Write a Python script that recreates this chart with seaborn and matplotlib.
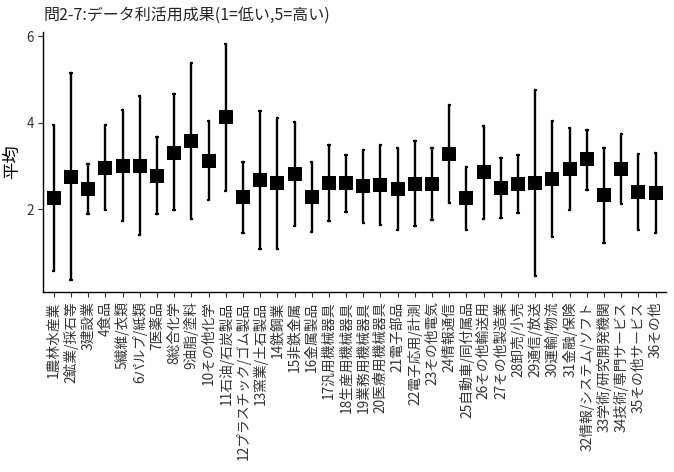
import pandas as pd
import seaborn as sns
import matplotlib.pyplot as plt

# industries (x categories)
industries = [
    "1農林水産業", "2鉱業/採石等", "3建設業", "4食品", "5繊維/衣類", "6パルプ/紙類",
    "7医薬品", "8総合化学", "9油脂/塗料", "10その他化学", "11石油/石炭製品",
    "12プラスチック/ゴム製品", "13窯業/土石製品", "14鉄鋼業", "15非鉄金属", "16金属製品",
    "17汎用機械器具", "18生産用機械器具", "19業務用機械器具", "20医療用機械器具",
    "21電子部品", "22電子応用/計測", "23その他電気", "24情報通信", "25自動車/同付属品",
    "26その他輸送用", "27その他製造業", "28卸売/小売", "29通信/放送", "30運輸/物流",
    "31金融/保険", "32情報/システム/ソフト", "33学術/研究開発機関", "34技術/専門サービス",
    "35その他サービス", "36その他",
]

# mean score and interval ends
mean_vals = [2.25, 2.75, 2.46, 2.96, 3.01, 3.01, 2.76, 3.31, 3.57, 3.12, 4.13, 2.27,
             2.68, 2.61, 2.82, 2.28, 2.61, 2.61, 2.54, 2.56, 2.47, 2.58, 2.58, 3.28,
             2.25, 2.85, 2.49, 2.58, 2.61, 2.70, 2.93, 3.15, 2.32, 2.92, 2.40, 2.38]
upper_vals = [3.95, 5.15, 3.05, 3.95, 4.29, 4.61, 3.66, 4.66, 5.38, 4.03, 5.82, 3.09,
              4.27, 4.12, 4.02, 3.08, 3.48, 3.26, 3.38, 3.48, 3.41, 3.57, 3.42, 4.42,
              2.98, 3.92, 3.19, 3.25, 4.75, 4.03, 3.87, 3.83, 3.42, 3.73, 3.28, 3.30]
lower_vals = [0.57, 0.36, 1.88, 1.98, 1.72, 1.41, 1.88, 1.98, 1.76, 2.20, 2.43, 1.45,
              1.07, 1.08, 1.62, 1.48, 1.73, 1.94, 1.68, 1.64, 1.52, 1.60, 1.74, 2.15,
              1.52, 1.78, 1.79, 1.90, 0.45, 1.36, 1.98, 2.45, 1.22, 2.11, 1.52, 1.45]

rows = []
for name, lo, m, hi in zip(industries, lower_vals, mean_vals, upper_vals):
    for v in (lo, m, hi):
        rows.append({"industry": name, "value": v})
df = pd.DataFrame(rows)

sns.set_style("ticks")
plt.rcParams["font.family"] = ["Noto Sans CJK JP", "DejaVu Sans"]

fig = plt.figure(figsize=(6.74, 4.72), dpi=100)
ax = fig.add_axes([0.0645, 0.382, 0.9235, 0.55])

sns.pointplot(
    data=df, x="industry", y="value", order=industries,
    estimator="median", errorbar=lambda v: (v.min(), v.max()),
    color="black", linestyle="none", marker="s", markersize=10.5,
    markeredgewidth=0, capsize=0.08, err_kws={"linewidth": 1.7}, ax=ax,
)

ax.set_xlim(-0.6, len(industries) - 0.4)
ax.set_ylim(0.087, 6.1)
ax.set_yticks([2, 4, 6])
ax.set_xlabel("")
ax.set_ylabel("平均", fontsize=12.5, color="black")
ax.yaxis.set_label_coords(-0.036, 0.5)
ax.set_title("問2-7:データ利活用成果(1=低い,5=高い)", loc="left", fontsize=11.5,
             x=0.0, pad=9)
ax.tick_params(axis="x", rotation=90, labelsize=9.9, colors="#333333", length=3.5, width=0.8)
ax.tick_params(axis="y", labelsize=9.6, colors="#333333", length=3.5, width=0.8)
for lab in ax.get_xticklabels():
    lab.set_verticalalignment("top")
for side in ("top", "right"):
    ax.spines[side].set_visible(False)
for side in ("left", "bottom"):
    ax.spines[side].set_linewidth(1.0)
    ax.spines[side].set_color("black")

fig.savefig("out.png", dpi=100)
